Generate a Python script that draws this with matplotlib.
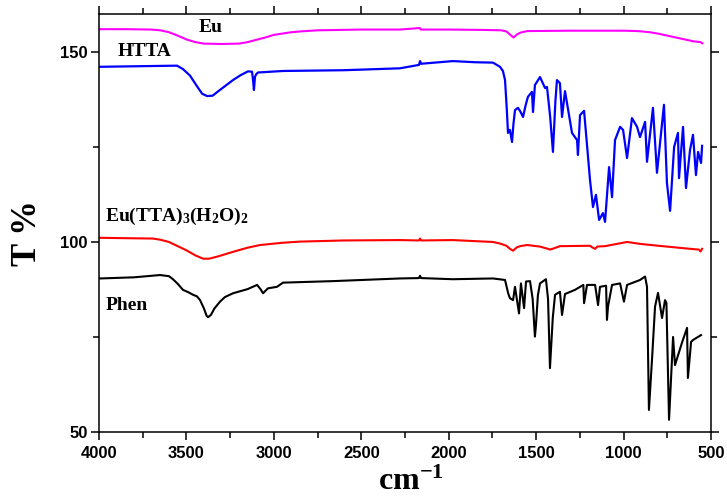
import numpy as np
import matplotlib
matplotlib.use('Agg')
import matplotlib.pyplot as plt

plt.rcParams['font.family'] = 'Liberation Sans'
plt.rcParams['mathtext.fontset'] = 'custom'
plt.rcParams['mathtext.rm'] = 'Liberation Serif:bold'
plt.rcParams['mathtext.bf'] = 'Liberation Serif:bold'
plt.rcParams['mathtext.default'] = 'bf'

# ===== spectra (wavenumber, T %) =====
eu_wn = [3995, 3850, 3700, 3650, 3600, 3550, 3500, 3450, 3400, 3300, 3200, 3150, 3100, 3050,
         3000, 2900, 2850, 2750, 2500, 2280, 2165, 2160, 2000, 1800, 1700, 1670, 1650, 1630,
         1610, 1590, 1550, 1300, 1000, 920, 850, 800, 750, 700, 650, 600, 560, 550]
eu_t = [156.0, 156.0, 155.9, 155.7, 155.2, 154.3, 153.3, 152.6, 152.2, 152.1, 152.2, 152.6,
        153.2, 153.8, 154.5, 155.2, 155.4, 155.7, 155.9, 155.9, 156.3, 155.9, 155.9, 155.8,
        155.7, 155.4, 154.6, 153.8, 154.6, 155.1, 155.5, 155.6, 155.6, 155.5, 155.2, 154.8,
        154.3, 153.8, 153.3, 152.8, 152.6, 152.3]

htta_wn = [3994, 3700, 3554, 3520, 3480, 3440, 3410, 3382, 3350, 3320, 3280, 3234, 3190, 3148,
           3125, 3120, 3114, 3108, 3100, 3091, 2948, 2600, 2279, 2170, 2164, 2158, 1976, 1850,
           1747, 1707, 1690, 1678, 1668, 1661, 1650, 1638, 1630, 1621, 1604, 1590, 1575, 1560,
           1547, 1524, 1518, 1507, 1478, 1449, 1438, 1420, 1404, 1390, 1381, 1364, 1352, 1335,
           1295, 1266, 1261, 1249, 1226, 1210, 1192, 1175, 1158, 1140, 1118, 1106, 1083, 1066,
           1049, 1020, 1003, 980, 952, 923, 906, 877, 866, 832, 809, 769, 752, 734, 711, 689,
           683, 660, 643, 620, 603, 586, 574, 557, 551]
htta_t = [146.1, 146.3, 146.4, 145.5, 143.8, 141.0, 139.0, 138.4, 138.5, 139.6, 141.0, 142.6,
          143.9, 144.9, 144.8, 143.0, 140.0, 143.5, 144.2, 144.6, 145.0, 145.2, 145.7, 146.6,
          147.6, 146.9, 147.6, 147.3, 147.2, 146.1, 145.0, 142.6, 135.0, 128.7, 129.5, 126.3,
          131.0, 134.7, 135.3, 134.3, 132.9, 136.0, 138.2, 139.5, 134.2, 141.3, 143.4, 140.5,
          140.8, 133.0, 123.7, 137.0, 142.6, 141.8, 132.9, 139.7, 128.7, 126.8, 122.9, 133.4,
          134.5, 126.0, 116.3, 109.2, 112.4, 105.8, 107.6, 105.3, 119.7, 111.8, 126.8, 130.3,
          129.5, 122.1, 132.6, 130.3, 127.6, 131.6, 121.1, 135.3, 118.2, 136.1, 115.5, 108.2,
          125.0, 128.7, 116.8, 130.3, 114.2, 124.2, 128.2, 117.6, 123.7, 120.8, 125.3]

comp_wn = [3994, 3850, 3691, 3650, 3600, 3550, 3500, 3450, 3405, 3370, 3320, 3234, 3150, 3079,
           2950, 2850, 2600, 2279, 2170, 2164, 2158, 1976, 1747, 1707, 1670, 1650, 1632, 1610,
           1592, 1552, 1480, 1440, 1421, 1400, 1364, 1192, 1180, 1163, 1150, 1106, 980, 906,
           800, 620, 570, 560, 551]
comp_t = [101.1, 101.0, 100.9, 100.6, 100.0, 98.9, 97.8, 96.5, 95.6, 95.6, 96.2, 97.4, 98.5,
          99.2, 99.8, 100.1, 100.4, 100.5, 100.4, 100.9, 100.4, 100.5, 100.0, 99.6, 99.0, 98.2,
          97.7, 98.6, 98.9, 99.2, 98.8, 98.3, 98.0, 98.3, 98.9, 99.0, 98.6, 98.2, 98.8, 98.9,
          100.0, 99.5, 99.0, 98.2, 98.0, 97.5, 98.2]

phen_wn = [3994, 3800, 3651, 3600, 3577, 3550, 3520, 3490, 3462, 3440, 3422, 3400, 3385, 3377,
           3360, 3340, 3308, 3280, 3234, 3150, 3096, 3075, 3062, 3034, 2982, 2948, 2662, 2279,
           2170, 2164, 2158, 1976, 1747, 1678, 1660, 1650, 1632, 1621, 1598, 1587, 1569, 1558,
           1535, 1520, 1507, 1501, 1490, 1478, 1444, 1432, 1421, 1405, 1392, 1364, 1352, 1335,
           1278, 1230, 1226, 1209, 1163, 1146, 1135, 1100, 1095, 1089, 1066, 1020, 998, 980,
           906, 877, 866, 855, 837, 820, 803, 780, 763, 755, 740, 717, 706, 666, 637, 632, 614,
           603, 557]
phen_t = [90.4, 90.7, 91.3, 91.0, 90.2, 89.0, 87.4, 86.8, 86.1, 85.7, 84.7, 82.5, 80.6, 80.2,
          80.8, 82.5, 84.3, 85.5, 86.5, 87.6, 88.7, 87.5, 86.5, 87.8, 88.2, 89.3, 89.7, 90.4,
          90.5, 91.1, 90.5, 90.2, 90.4, 90.0, 86.5, 85.2, 84.7, 88.2, 81.2, 89.1, 82.6, 89.6,
          89.7, 85.0, 75.1, 78.2, 86.0, 89.1, 90.2, 85.0, 66.8, 80.0, 86.1, 86.9, 80.8, 86.3,
          87.4, 88.7, 83.9, 88.7, 88.7, 83.4, 88.2, 88.5, 79.5, 83.0, 88.7, 89.1, 84.3, 88.7,
          90.0, 90.9, 88.2, 55.8, 69.4, 83.0, 86.6, 80.0, 84.7, 84.0, 53.2, 75.0, 67.6, 73.5,
          77.4, 64.2, 73.7, 74.2, 75.5]

labels = ['Eu', 'HTTA', r'Eu(TTA)$_3$(H$_2$O)$_2$', 'Phen']
label_pos = [(3360, 156.4), (3891, 150.1), (3966, 106.8), (3960, 83.2)]

fig = plt.figure(figsize=(7.27, 4.99), dpi=100)
ax = fig.add_axes([0.1362, 0.1343, 0.8418, 0.8377])

ax.plot(eu_wn, eu_t, color='#ff00ff', linewidth=1.5)
ax.plot(htta_wn, htta_t, color='#0000ff', linewidth=1.6)
ax.plot(comp_wn, comp_t, color='#ff0000', linewidth=1.5)
ax.plot(phen_wn, phen_t, color='black', linewidth=1.5)

for txt, (x, y) in zip(labels, label_pos):
    ha = 'center' if txt == 'Eu' else 'left'
    ax.text(x, y, txt, ha=ha, va='center', fontsize=14, fontweight='bold',
            family='Liberation Serif')

ax.set_xlim(4000, 500)
ax.set_ylim(50, 160)
ax.set_xticks([4000, 3500, 3000, 2500, 2000, 1500, 1000, 500])
ax.set_xticks(np.arange(3750, 500, -500), minor=True)
ax.set_yticks([50, 100, 150])
ax.set_yticks([75, 125], minor=True)

for lab in ax.get_xticklabels() + ax.get_yticklabels():
    lab.set_fontweight('bold')
    lab.set_fontsize(12)

ax.tick_params(which='major', direction='out', length=6, width=1.1, pad=4)
ax.tick_params(which='minor', direction='out', length=4, width=1.1)
ax.tick_params(which='both', top=True, right=True, labeltop=False, labelright=False)
ax.tick_params(axis='y', which='major', pad=2)
for s in ax.spines.values():
    s.set_linewidth(1.1)

fig.text(27 / 727, 1 - 233 / 499, 'T %', rotation=90, ha='center', va='center',
         fontsize=25, fontweight='bold', family='Liberation Serif')
fig.text(378 / 727, 0.004, r'cm$^{-1}$', ha='left', va='bottom',
         fontsize=23, fontweight='bold', family='Liberation Serif')

plt.savefig('out.png', dpi=100)
